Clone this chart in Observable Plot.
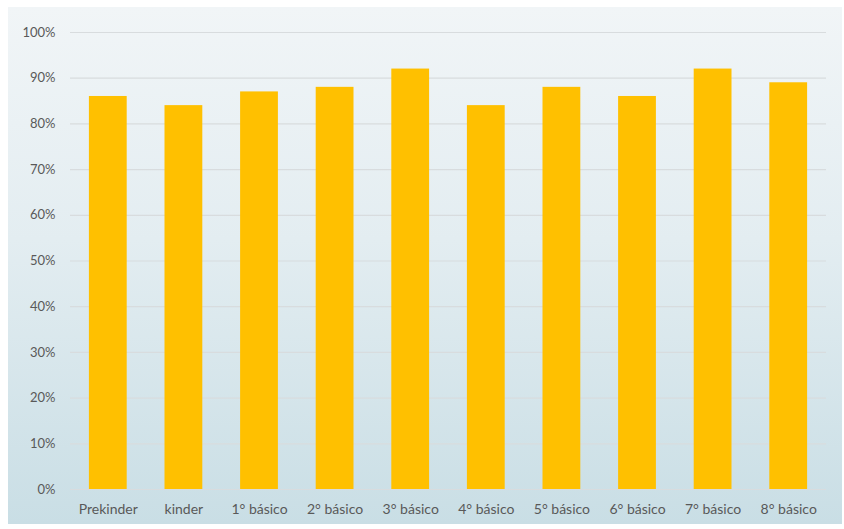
<!DOCTYPE html>
<html>
<head>
<meta charset="utf-8">
<script src="https://cdn.jsdelivr.net/npm/d3@7"></script>
<script src="https://cdn.jsdelivr.net/npm/@observablehq/plot@0.6"></script>
<style>
  html, body { margin: 0; padding: 0; background: #ffffff; }
  #wrap { position: relative; width: 844px; height: 529px; overflow: hidden; }
  #panel { position: absolute; left: 8px; top: 7px; width: 834px; height: 517px;
           background: linear-gradient(to bottom, #f1f5f7 0%, #e3edf1 45%, #c9dee5 100%); }
  #chart { position: absolute; left: 0; top: 0; }
  #chart svg { background: transparent !important; }
</style>
</head>
<body>
<div id="wrap"><div id="panel"></div><div id="chart"></div></div>
<script>
const categories = ["Prekinder", "kinder", "1° básico", "2° básico", "3° básico", "4° básico", "5° básico", "6° básico", "7° básico", "8° básico"];
const values = [0.86, 0.84, 0.87, 0.88, 0.92, 0.84, 0.88, 0.86, 0.92, 0.89];
const yTicks = [0, 0.1, 0.2, 0.3, 0.4, 0.5, 0.6, 0.7, 0.8, 0.9, 1.0];

const data = categories.map((c, i) => ({category: c, value: values[i]}));

const chart = Plot.plot({
  width: 844,
  height: 529,
  marginLeft: 70,
  marginRight: 18,
  marginTop: 32,
  marginBottom: 40,
  style: {background: "transparent", fontFamily: "Lato, sans-serif", color: "#595959"},
  x: {domain: categories, paddingInner: 0.5, paddingOuter: 0.25, round: false, label: null},
  y: {domain: [0, 1], label: null},
  marks: [
    Plot.ruleY(yTicks, {stroke: "#d8dcde", strokeWidth: 1.2}),
    Plot.barY(data, {x: "category", y: "value", fill: "#FFC000"}),
    Plot.axisY(yTicks, {tickSize: 0, tickPadding: 15, tickFormat: d => Math.round(d * 100) + "%", fontSize: 13, fill: "#595959", label: null}),
    Plot.axisX({tickSize: 0, tickPadding: 15, fontSize: 14, fill: "#595959", label: null})
  ]
});
document.getElementById("chart").appendChild(chart);
</script>
</body>
</html>
